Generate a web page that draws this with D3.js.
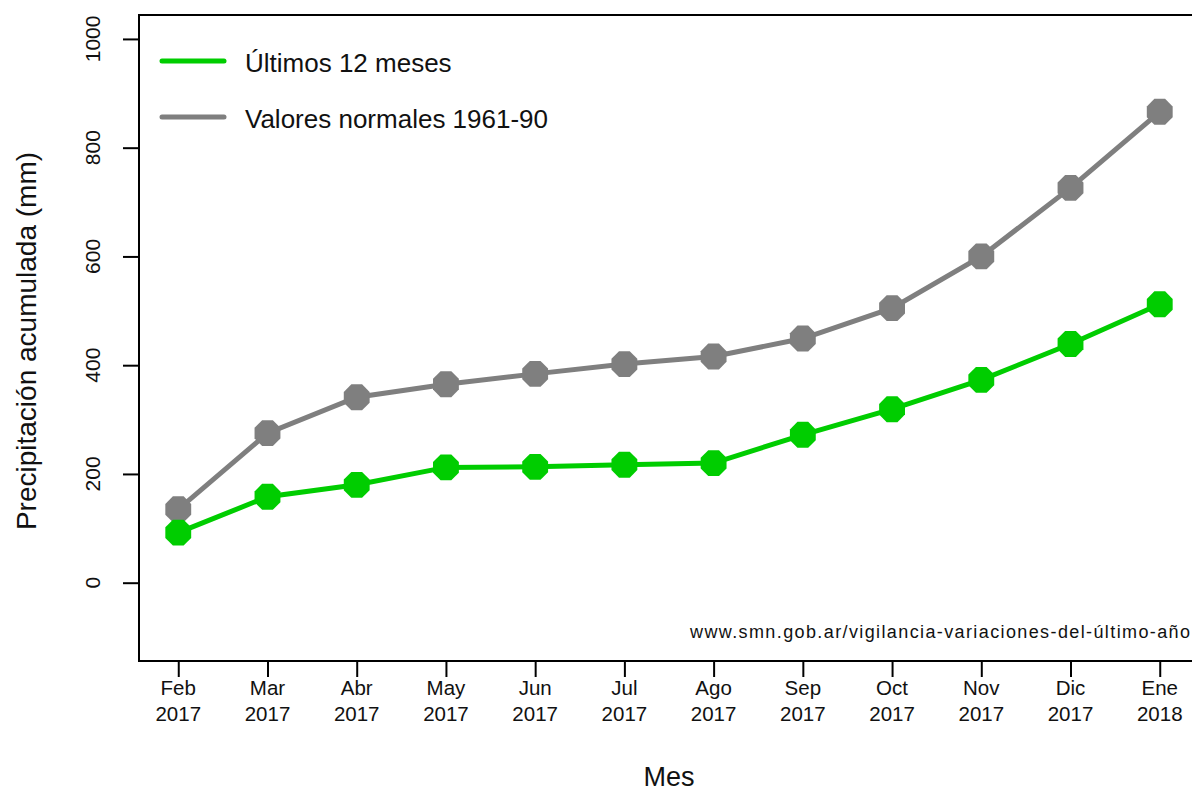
<!DOCTYPE html>
<meta charset="utf-8">
<script src="https://d3js.org/d3.v7.min.js"></script>
<style>
  body { margin: 0; background: #fff; }
  text { font-family: "Liberation Sans", Arial, sans-serif; fill: #111; }
</style>
<div id="chart"></div>
<script>

// Data
var months = ["Feb", "Mar", "Abr", "May", "Jun", "Jul", "Ago", "Sep", "Oct", "Nov", "Dic", "Ene"];
var years = ["2017", "2017", "2017", "2017", "2017", "2017", "2017", "2017", "2017", "2017", "2017", "2018"];
var ultimos = [92, 158, 180, 212, 213, 217, 220, 272, 319, 373, 439, 512];
var normales = [135, 275, 341, 365, 384, 402, 416, 449, 505, 600, 726, 866];
var yTicks = [0, 200, 400, 600, 800, 1000];

var W = 1192, H = 792;
var plot = { left: 139, top: 15, right: 1199, bottom: 661 };

var svg = d3.select("#chart").append("svg")
    .attr("width", W)
    .attr("height", H);

svg.append("rect").attr("width", W).attr("height", H).attr("fill", "#fff");

// Scales (R style: 4% extension on each side)
var x = d3.scaleLinear()
    .domain([-0.44, months.length - 1 + 0.44])
    .range([plot.left, plot.right]);

var y = d3.scaleLinear()
    .domain([-144, 1044])
    .range([plot.bottom, plot.top]);

// Plot box
svg.append("rect")
    .attr("x", plot.left)
    .attr("y", plot.top)
    .attr("width", plot.right - plot.left)
    .attr("height", plot.bottom - plot.top)
    .attr("fill", "none")
    .attr("stroke", "#000")
    .attr("stroke-width", 2);

// Y axis
var yAxis = svg.append("g")
    .attr("transform", "translate(" + plot.left + ",0)")
    .call(d3.axisLeft(y).tickValues(yTicks).tickSize(16).tickFormat(""));
yAxis.select(".domain").remove();
yAxis.selectAll(".tick line").attr("stroke", "#000").attr("stroke-width", 2);

svg.append("g").selectAll("text")
    .data(yTicks)
    .enter().append("text")
    .attr("transform", function(d) { return "translate(100," + y(d) + ") rotate(-90)"; })
    .attr("text-anchor", "middle")
    .style("font-size", "21px")
    .text(function(d) { return d; });

// X axis
var xAxis = svg.append("g")
    .attr("transform", "translate(0," + plot.bottom + ")")
    .call(d3.axisBottom(x).tickValues(d3.range(months.length)).tickSize(16).tickFormat(""));
xAxis.select(".domain").remove();
xAxis.selectAll(".tick line").attr("stroke", "#000").attr("stroke-width", 2);

var xLab = svg.append("g").selectAll("text")
    .data(months)
    .enter().append("text")
    .attr("text-anchor", "middle")
    .style("font-size", "20.5px");
xLab.append("tspan")
    .attr("x", function(d, i) { return x(i); })
    .attr("y", 695)
    .text(function(d) { return d; });
xLab.append("tspan")
    .attr("x", function(d, i) { return x(i); })
    .attr("y", 721)
    .text(function(d, i) { return years[i]; });

// Axis titles
svg.append("text")
    .attr("x", (plot.left + plot.right) / 2)
    .attr("y", 786)
    .attr("text-anchor", "middle")
    .style("font-size", "27px")
    .text("Mes");

svg.append("text")
    .attr("transform", "translate(36," + ((plot.top + plot.bottom) / 2 + 3) + ") rotate(-90)")
    .attr("text-anchor", "middle")
    .style("font-size", "28px")
    .text("Precipitación acumulada (mm)");

// Octagon marker
var octagon = {
  draw: function(context, size) {
    var r = Math.sqrt(size);
    for (var k = 0; k < 8; k++) {
      var a = Math.PI / 8 + k * Math.PI / 4;
      if (k === 0) context.moveTo(r * Math.cos(a), r * Math.sin(a));
      else context.lineTo(r * Math.cos(a), r * Math.sin(a));
    }
    context.closePath();
  }
};

var line = d3.line()
    .x(function(d, i) { return x(i); })
    .y(function(d) { return y(d); });

function drawSeries(values, color) {
  svg.append("path")
      .datum(values)
      .attr("d", line)
      .attr("fill", "none")
      .attr("stroke", color)
      .attr("stroke-width", 5);
  svg.append("g").selectAll("path")
      .data(values)
      .enter().append("path")
      .attr("transform", function(d, i) { return "translate(" + x(i) + "," + y(d) + ")"; })
      .attr("d", d3.symbol().type(octagon).size(14 * 14))
      .attr("fill", color);
}

drawSeries(normales, "#7f7f7f");
drawSeries(ultimos, "#00cd00");

// Legend
var legendItems = [
  { label: "Últimos 12 meses", color: "#00cd00" },
  { label: "Valores normales 1961-90", color: "#7f7f7f" }
];
var legend = svg.append("g").selectAll("g")
    .data(legendItems)
    .enter().append("g")
    .attr("transform", function(d, i) { return "translate(0," + (61 + i * 56) + ")"; });
legend.append("line")
    .attr("x1", 162).attr("x2", 224)
    .attr("stroke", function(d) { return d.color; })
    .attr("stroke-width", 5)
    .attr("stroke-linecap", "round");
legend.append("text")
    .attr("x", 245)
    .attr("y", 11)
    .style("font-size", "26px")
    .text(function(d) { return d.label; });

// Source note
svg.append("text")
    .attr("x", 690)
    .attr("y", 638)
    .attr("textLength", 500)
    .attr("lengthAdjust", "spacing")
    .style("font-size", "18px")
    .text("www.smn.gob.ar/vigilancia-variaciones-del-último-año");

</script>
